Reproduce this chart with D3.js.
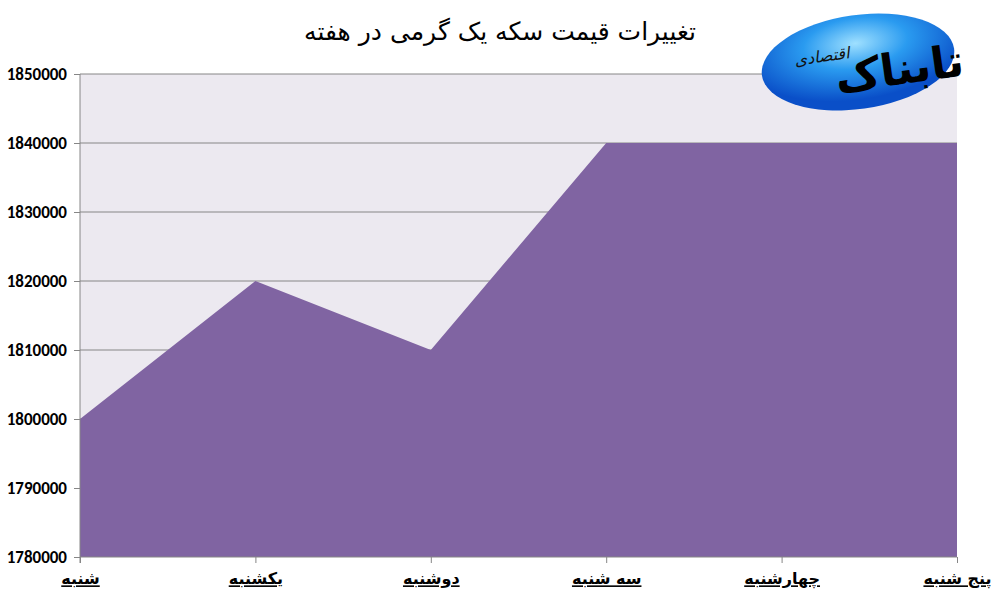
<!DOCTYPE html>
<html>
<head>
<meta charset="utf-8">
<script src="https://cdn.jsdelivr.net/npm/d3@7"></script>
<style>
  body { margin: 0; background: #fff; }
  svg { display: block; }
</style>
</head>
<body>
<div id="chart"></div>
<script>
// chart data
const days = ["شنبه", "یکشنبه", "دوشنبه", "سه شنبه", "چهارشنبه", "پنج شنبه"]
const prices = [1800000, 1820000, 1810000, 1840000, 1840000, 1840000]
const yTicks = [1780000, 1790000, 1800000, 1810000, 1820000, 1830000, 1840000, 1850000]
const title = "تغییرات قیمت سکه یک گرمی در هفته"

const width = 994
const height = 598
const margin = { top: 74, right: 37, bottom: 41, left: 80 }

const svg = d3.select("#chart")
    .append("svg")
    .attr("width", width)
    .attr("height", height)

const x = d3.scalePoint()
    .domain(days)
    .range([margin.left, width - margin.right])

const y = d3.scaleLinear()
    .domain([1780000, 1850000])
    .range([height - margin.bottom, margin.top])

// plot background
svg.append("rect")
    .attr("x", margin.left)
    .attr("y", margin.top)
    .attr("width", width - margin.right - margin.left)
    .attr("height", height - margin.bottom - margin.top)
    .attr("fill", "#ece9f0")

// gridlines
svg.append("g")
    .selectAll("line")
    .data(yTicks.slice(1))
    .join("line")
    .attr("x1", margin.left)
    .attr("x2", width - margin.right)
    .attr("y1", d => y(d))
    .attr("y2", d => y(d))
    .attr("stroke", "#868686")
    .attr("stroke-width", 1)

// the area
const area = d3.area()
    .x((d, i) => x(days[i]))
    .y0(y(1780000))
    .y1(d => y(d))

svg.append("path")
    .datum(prices)
    .attr("d", area)
    .attr("fill", "#8064a2")

// y axis
const yAxis = svg.append("g")
    .attr("transform", `translate(${margin.left},0)`)
    .call(d3.axisLeft(y).tickValues(yTicks).tickFormat(d3.format("d")).tickSize(6).tickPadding(7))
yAxis.select(".domain").attr("stroke", "#868686").attr("d", `M0,${y(1850000)}V${y(1780000) + 6}`)
yAxis.selectAll(".tick line").attr("stroke", "#868686")
yAxis.selectAll("text")
    .style("font-family", "Calibri, Carlito, 'Liberation Sans', Arial, sans-serif")
    .style("font-size", "17px")
    .style("font-weight", "bold")
    .attr("fill", "#000")

// x axis
const xAxis = svg.append("g")
    .attr("transform", `translate(0,${y(1780000)})`)
    .call(d3.axisBottom(x).tickSize(6).tickPadding(10))
xAxis.select(".domain").attr("stroke", "#868686").attr("d", `M${margin.left},0H${width - margin.right}`)
xAxis.selectAll(".tick line").attr("stroke", "#868686")
xAxis.selectAll("text")
    .style("font-family", "'DejaVu Sans', sans-serif")
    .style("font-size", "16px")
    .style("font-weight", "bold")
    .style("text-decoration", "underline")
    .attr("fill", "#000")
    .attr("direction", "rtl")

// title
svg.append("text")
    .attr("x", 500)
    .attr("y", 40)
    .attr("text-anchor", "middle")
    .attr("direction", "rtl")
    .style("font-family", "'DejaVu Sans', sans-serif")
    .style("font-size", "25px")
    .attr("fill", "#000")
    .text(title)

// logo badge
const defs = svg.append("defs")
const grad = defs.append("radialGradient")
    .attr("id", "logoGrad")
    .attr("cx", "50%").attr("cy", "30%").attr("r", "60%")
grad.append("stop").attr("offset", "0%").attr("stop-color", "#9fe0ff")
grad.append("stop").attr("offset", "45%").attr("stop-color", "#2a9bf0")
grad.append("stop").attr("offset", "100%").attr("stop-color", "#0a4fc8")

const logo = svg.append("g").attr("transform", "translate(858,62) rotate(-8)")
logo.append("ellipse")
    .attr("rx", 97)
    .attr("ry", 47)
    .attr("fill", "url(#logoGrad)")
logo.append("text")
    .attr("x", 40)
    .attr("y", 28)
    .attr("text-anchor", "middle")
    .attr("direction", "rtl")
    .style("font-family", "'DejaVu Sans', sans-serif")
    .style("font-size", "44px")
    .style("font-weight", "bold")
    .attr("fill", "#000")
    .text("تابناک")
logo.append("text")
    .attr("x", -35)
    .attr("y", -5)
    .attr("text-anchor", "middle")
    .attr("direction", "rtl")
    .style("font-family", "'DejaVu Sans', sans-serif")
    .style("font-size", "16px")
    .style("font-style", "italic")
    .attr("fill", "#111")
    .text("اقتصادی")
</script>
</body>
</html>
